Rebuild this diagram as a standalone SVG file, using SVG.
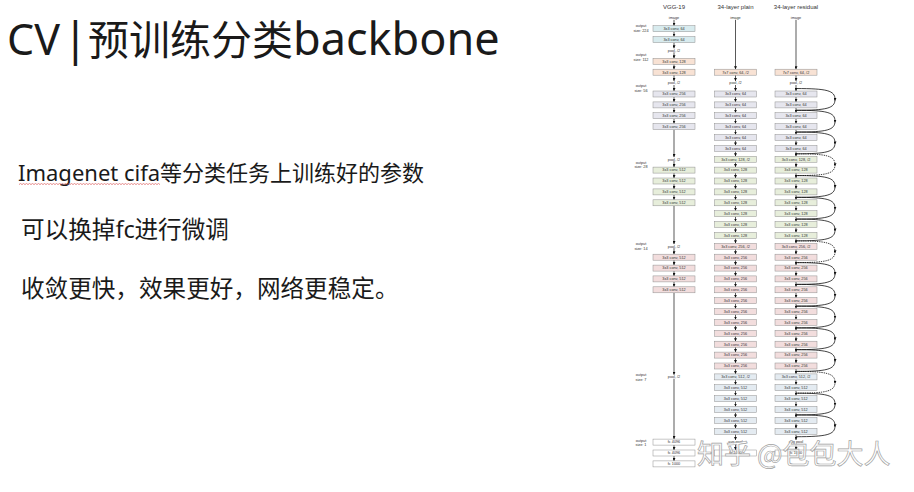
<svg xmlns="http://www.w3.org/2000/svg" width="914" height="492" viewBox="0 0 914 492">
<defs>
<style>
.b{stroke:#8f8f8f;stroke-width:0.5}
.t{font-family:"Liberation Sans",Arial,sans-serif;font-size:3.8px;fill:#333;text-anchor:middle}
.h{font-family:"Liberation Sans",Arial,sans-serif;font-size:6px;fill:#333;text-anchor:middle}
.a{stroke:#111;stroke-width:0.7;fill:none;marker-end:url(#ah)}
.s{stroke:#111;stroke-width:0.8;fill:none;marker-mid:url(#am)}
.d{stroke-dasharray:1.4 0.9}
.c224{fill:#d8ebee}.c112{fill:#f8e2d4}.c56{fill:#e6e6ee}.c28{fill:#e7eedb}.c14{fill:#f2dddd}.c7{fill:#e4ebf1}.cfc{fill:#fff}
.body{font-family:"Noto Sans","Noto Sans CJK SC",sans-serif;fill:#1a1a1a}
</style>
<marker id="ah" markerUnits="userSpaceOnUse" markerWidth="3" markerHeight="3" viewBox="0 0 3 3" refX="3" refY="1.5" orient="auto"><path d="M0,0L3,1.5L0,3z" fill="#111"/></marker>
<marker id="am" markerUnits="userSpaceOnUse" markerWidth="3" markerHeight="3" viewBox="0 0 3 3" refX="1.5" refY="1.5" orient="auto"><path d="M0,0L3,1.5L0,3z" fill="#111"/></marker>
<pattern id="wavy" patternUnits="userSpaceOnUse" x="19" y="183" width="3" height="2"><path d="M0,1.6L1.5,0.4L3,1.6" fill="none" stroke="#d43a3a" stroke-width="0.6"/></pattern>
</defs>
<rect width="914" height="492" fill="#fff"/>

<g id="title"><text class="body" y="55"><tspan x="7" font-size="43">CV</tspan><tspan x="63" font-size="45">|</tspan><tspan x="88" font-size="41">预训练分类</tspan><tspan x="293" font-size="45">backbone</tspan></text></g>
<g id="line1"><text class="body" y="181" font-size="22"><tspan x="18">Imagenet cifa</tspan><tspan x="160">等分类任务上训练好的参数</tspan></text><rect x="19" y="183" width="141" height="2" fill="url(#wavy)"/></g>
<g id="line2"><text class="body" y="238" font-size="23.6"><tspan x="21">可以换掉</tspan><tspan x="115.5">fc</tspan><tspan x="134.5">进行微调</tspan></text></g>
<g id="line3"><text class="body" x="21" y="297" font-size="23.6">收敛更快，效果更好，网络更稳定。</text></g>

<g id="headers">
<text class="h" x="674" y="9">VGG-19</text>
<text class="h" x="735.5" y="9">34-layer plain</text>
<text class="h" x="796" y="9">34-layer residual</text>
</g>
<g id="output-sizes">
<text class="t" x="641" y="27.3">output</text><text class="t" x="641" y="32">size: 224</text>
<text class="t" x="641" y="56">output</text><text class="t" x="641" y="60.6">size: 112</text>
<text class="t" x="641" y="87.3">output</text><text class="t" x="641" y="92.3">size: 56</text>
<text class="t" x="641" y="163.8">output</text><text class="t" x="641" y="168.3">size: 28</text>
<text class="t" x="641" y="245.3">output</text><text class="t" x="641" y="249.6">size: 14</text>
<text class="t" x="641" y="376">output</text><text class="t" x="641" y="380.6">size: 7</text>
<text class="t" x="641" y="441.5">output</text><text class="t" x="641" y="446.1">size: 1</text>
</g>

<g id="connectors">
<path class="a" d="M674,19.8V25.7"/><path class="a" d="M674,31.7V36.6"/><path class="a" d="M674,42.6V48.3"/><path class="a" d="M674,52.3V58.3"/><path class="a" d="M674,64.3V69.2"/><path class="a" d="M674,75.2V80.9"/><path class="a" d="M674,85V91"/><path class="a" d="M674,97V101.9"/><path class="a" d="M674,107.9V112.7"/><path class="a" d="M674,118.7V123.6"/><path class="a" d="M674,129.6V157.1"/><path class="a" d="M674,161.1V167.1"/><path class="a" d="M674,173.1V178"/><path class="a" d="M674,184V188.9"/><path class="a" d="M674,194.9V199.8"/><path class="a" d="M674,205.8V244.1"/><path class="a" d="M674,248.1V254.2"/><path class="a" d="M674,260.2V265.1"/><path class="a" d="M674,271.1V275.9"/><path class="a" d="M674,281.9V286.8"/><path class="a" d="M674,292.8V374.7"/><path class="a" d="M674,378.7V439.1"/><path class="a" d="M674,445.1V450"/><path class="a" d="M674,456V460.9"/>
<g id="plain-arrows" transform="translate(735.5,0)">
<path class="a" d="M0,19.8V69.2"/><path class="a" d="M0,75.2V80.9"/><path class="a" d="M0,85V91"/><path class="a" d="M0,97V101.9"/><path class="a" d="M0,107.9V112.7"/><path class="a" d="M0,118.7V123.6"/><path class="a" d="M0,129.6V134.5"/><path class="a" d="M0,140.5V145.4"/><path class="a" d="M0,151.4V156.3"/><path class="a" d="M0,162.3V167.1"/><path class="a" d="M0,173.1V178"/><path class="a" d="M0,184V188.9"/><path class="a" d="M0,194.9V199.8"/><path class="a" d="M0,205.8V210.7"/><path class="a" d="M0,216.7V221.5"/><path class="a" d="M0,227.5V232.4"/><path class="a" d="M0,238.4V243.3"/><path class="a" d="M0,249.3V254.2"/><path class="a" d="M0,260.2V265.1"/><path class="a" d="M0,271.1V275.9"/><path class="a" d="M0,281.9V286.8"/><path class="a" d="M0,292.8V297.7"/><path class="a" d="M0,303.7V308.6"/><path class="a" d="M0,314.6V319.5"/><path class="a" d="M0,325.5V330.3"/><path class="a" d="M0,336.3V341.2"/><path class="a" d="M0,347.2V352.1"/><path class="a" d="M0,358.1V363"/><path class="a" d="M0,369V373.9"/><path class="a" d="M0,379.9V384.7"/><path class="a" d="M0,390.7V395.6"/><path class="a" d="M0,401.6V406.5"/><path class="a" d="M0,412.5V417.4"/><path class="a" d="M0,423.4V428.3"/><path class="a" d="M0,434.3V439.9"/><path class="a" d="M0,444V450"/>
</g>
<g id="res-arrows" transform="translate(796,0)">
<path class="a" d="M0,19.8V69.2"/><path class="a" d="M0,75.2V80.9"/><path class="a" d="M0,85V91"/><path class="a" d="M0,97V101.9"/><path class="a" d="M0,107.9V112.7"/><path class="a" d="M0,118.7V123.6"/><path class="a" d="M0,129.6V134.5"/><path class="a" d="M0,140.5V145.4"/><path class="a" d="M0,151.4V156.3"/><path class="a" d="M0,162.3V167.1"/><path class="a" d="M0,173.1V178"/><path class="a" d="M0,184V188.9"/><path class="a" d="M0,194.9V199.8"/><path class="a" d="M0,205.8V210.7"/><path class="a" d="M0,216.7V221.5"/><path class="a" d="M0,227.5V232.4"/><path class="a" d="M0,238.4V243.3"/><path class="a" d="M0,249.3V254.2"/><path class="a" d="M0,260.2V265.1"/><path class="a" d="M0,271.1V275.9"/><path class="a" d="M0,281.9V286.8"/><path class="a" d="M0,292.8V297.7"/><path class="a" d="M0,303.7V308.6"/><path class="a" d="M0,314.6V319.5"/><path class="a" d="M0,325.5V330.3"/><path class="a" d="M0,336.3V341.2"/><path class="a" d="M0,347.2V352.1"/><path class="a" d="M0,358.1V363"/><path class="a" d="M0,369V373.9"/><path class="a" d="M0,379.9V384.7"/><path class="a" d="M0,390.7V395.6"/><path class="a" d="M0,401.6V406.5"/><path class="a" d="M0,412.5V417.4"/><path class="a" d="M0,423.4V428.3"/><path class="a" d="M0,434.3V439.9"/><path class="a" d="M0,444V450"/>
</g>
<g id="shortcuts">
<path class="s" d="M796,88.54C827,88.54 835,90.5 835,99.42C835,108.3 827,110.3 796,110.3"/>
<path class="s" d="M796,110.3C827,110.3 835,112.3 835,121.18C835,130.1 827,132.06 796,132.06"/>
<path class="s" d="M796,132.06C827,132.06 835,134 835,142.94C835,151.8 827,153.82 796,153.82"/>
<path class="s d" d="M796,153.82C827,153.82 835,155.8 835,164.7C835,173.6 827,175.58 796,175.58"/>
<path class="s" d="M796,175.58C827,175.58 835,177.6 835,186.46C835,195.3 827,197.34 796,197.34"/>
<path class="s" d="M796,197.34C827,197.34 835,199.3 835,208.22C835,217.1 827,219.1 796,219.1"/>
<path class="s" d="M796,219.1C827,219.1 835,221.1 835,229.98C835,238.9 827,240.86 796,240.86"/>
<path class="s d" d="M796,240.86C827,240.86 835,242.9 835,251.74C835,260.6 827,262.62 796,262.62"/>
<path class="s" d="M796,262.62C827,262.62 835,264.6 835,273.5C835,282.4 827,284.38 796,284.38"/>
<path class="s" d="M796,284.38C827,284.38 835,286.4 835,295.26C835,304.1 827,306.14 796,306.14"/>
<path class="s" d="M796,306.14C827,306.14 835,308.1 835,317.02C835,325.9 827,327.9 796,327.9"/>
<path class="s" d="M796,327.9C827,327.9 835,329.9 835,338.78C835,347.7 827,349.66 796,349.66"/>
<path class="s" d="M796,349.66C827,349.66 835,351.7 835,360.54C835,369.4 827,371.42 796,371.42"/>
<path class="s d" d="M796,371.42C827,371.42 835,373.4 835,382.3C835,391.2 827,393.18 796,393.18"/>
<path class="s" d="M796,393.18C827,393.18 835,395.2 835,404.06C835,412.9 827,414.94 796,414.94"/>
<path class="s" d="M796,414.94C827,414.94 835,416.9 835,425.82C835,434.7 827,436.7 796,436.7"/>
</g>
</g>

<g id="vgg">
<g id="v-image"><text class="t" x="674" y="19">image</text></g>
<g id="v-c1" transform="translate(674,28.7)"><rect class="b c224" x="-21" y="-3" width="42" height="6"/><text class="t" y="1.3">3x3 conv, 64</text></g>
<g id="v-c2" transform="translate(674,39.6)"><rect class="b c224" x="-21" y="-3" width="42" height="6"/><text class="t" y="1.3">3x3 conv, 64</text></g>
<g id="v-p1" transform="translate(674,50.5)"><text class="t" y="1.3">pool, /2</text></g>
<g id="v-c3" transform="translate(674,61.3)"><rect class="b c112" x="-21" y="-3" width="42" height="6"/><text class="t" y="1.3">3x3 conv, 128</text></g>
<g id="v-c4" transform="translate(674,72.2)"><rect class="b c112" x="-21" y="-3" width="42" height="6"/><text class="t" y="1.3">3x3 conv, 128</text></g>
<g id="v-p2" transform="translate(674,83.1)"><text class="t" y="1.3">pool, /2</text></g>
<g id="v-c5" transform="translate(674,94)"><rect class="b c56" x="-21" y="-3" width="42" height="6"/><text class="t" y="1.3">3x3 conv, 256</text></g>
<g id="v-c6" transform="translate(674,104.9)"><rect class="b c56" x="-21" y="-3" width="42" height="6"/><text class="t" y="1.3">3x3 conv, 256</text></g>
<g id="v-c7" transform="translate(674,115.7)"><rect class="b c56" x="-21" y="-3" width="42" height="6"/><text class="t" y="1.3">3x3 conv, 256</text></g>
<g id="v-c8" transform="translate(674,126.6)"><rect class="b c56" x="-21" y="-3" width="42" height="6"/><text class="t" y="1.3">3x3 conv, 256</text></g>
<g id="v-p3" transform="translate(674,159.3)"><text class="t" y="1.3">pool, /2</text></g>
<g id="v-c9" transform="translate(674,170.1)"><rect class="b c28" x="-21" y="-3" width="42" height="6"/><text class="t" y="1.3">3x3 conv, 512</text></g>
<g id="v-c10" transform="translate(674,181)"><rect class="b c28" x="-21" y="-3" width="42" height="6"/><text class="t" y="1.3">3x3 conv, 512</text></g>
<g id="v-c11" transform="translate(674,191.9)"><rect class="b c28" x="-21" y="-3" width="42" height="6"/><text class="t" y="1.3">3x3 conv, 512</text></g>
<g id="v-c12" transform="translate(674,202.8)"><rect class="b c28" x="-21" y="-3" width="42" height="6"/><text class="t" y="1.3">3x3 conv, 512</text></g>
<g id="v-p4" transform="translate(674,246.3)"><text class="t" y="1.3">pool, /2</text></g>
<g id="v-c13" transform="translate(674,257.2)"><rect class="b c14" x="-21" y="-3" width="42" height="6"/><text class="t" y="1.3">3x3 conv, 512</text></g>
<g id="v-c14" transform="translate(674,268.1)"><rect class="b c14" x="-21" y="-3" width="42" height="6"/><text class="t" y="1.3">3x3 conv, 512</text></g>
<g id="v-c15" transform="translate(674,278.9)"><rect class="b c14" x="-21" y="-3" width="42" height="6"/><text class="t" y="1.3">3x3 conv, 512</text></g>
<g id="v-c16" transform="translate(674,289.8)"><rect class="b c14" x="-21" y="-3" width="42" height="6"/><text class="t" y="1.3">3x3 conv, 512</text></g>
<g id="v-p5" transform="translate(674,376.9)"><text class="t" y="1.3">pool, /2</text></g>
<g id="v-f1" transform="translate(674,442.1)"><rect class="b cfc" x="-21" y="-3" width="42" height="6"/><text class="t" y="1.3">fc 4096</text></g>
<g id="v-f2" transform="translate(674,453)"><rect class="b cfc" x="-21" y="-3" width="42" height="6"/><text class="t" y="1.3">fc 4096</text></g>
<g id="v-f3" transform="translate(674,463.9)"><rect class="b cfc" x="-21" y="-3" width="42" height="6"/><text class="t" y="1.3">fc 1000</text></g>
</g>

<g id="plain">
<g id="p-image"><text class="t" x="735.5" y="19">image</text></g>
<g id="p-c0" transform="translate(735.5,72.2)"><rect class="b c112" x="-21" y="-3" width="42" height="6"/><text class="t" y="1.3">7x7 conv, 64, /2</text></g>
<g id="p-p1" transform="translate(735.5,83.1)"><text class="t" y="1.3">pool, /2</text></g>
<g id="p-c1" transform="translate(735.5,94)"><rect class="b c56" x="-21" y="-3" width="42" height="6"/><text class="t" y="1.3">3x3 conv, 64</text></g>
<g id="p-c2" transform="translate(735.5,104.9)"><rect class="b c56" x="-21" y="-3" width="42" height="6"/><text class="t" y="1.3">3x3 conv, 64</text></g>
<g id="p-c3" transform="translate(735.5,115.7)"><rect class="b c56" x="-21" y="-3" width="42" height="6"/><text class="t" y="1.3">3x3 conv, 64</text></g>
<g id="p-c4" transform="translate(735.5,126.6)"><rect class="b c56" x="-21" y="-3" width="42" height="6"/><text class="t" y="1.3">3x3 conv, 64</text></g>
<g id="p-c5" transform="translate(735.5,137.5)"><rect class="b c56" x="-21" y="-3" width="42" height="6"/><text class="t" y="1.3">3x3 conv, 64</text></g>
<g id="p-c6" transform="translate(735.5,148.4)"><rect class="b c56" x="-21" y="-3" width="42" height="6"/><text class="t" y="1.3">3x3 conv, 64</text></g>
<g id="p-c7" transform="translate(735.5,159.3)"><rect class="b c28" x="-21" y="-3" width="42" height="6"/><text class="t" y="1.3">3x3 conv, 128, /2</text></g>
<g id="p-c8" transform="translate(735.5,170.1)"><rect class="b c28" x="-21" y="-3" width="42" height="6"/><text class="t" y="1.3">3x3 conv, 128</text></g>
<g id="p-c9" transform="translate(735.5,181)"><rect class="b c28" x="-21" y="-3" width="42" height="6"/><text class="t" y="1.3">3x3 conv, 128</text></g>
<g id="p-c10" transform="translate(735.5,191.9)"><rect class="b c28" x="-21" y="-3" width="42" height="6"/><text class="t" y="1.3">3x3 conv, 128</text></g>
<g id="p-c11" transform="translate(735.5,202.8)"><rect class="b c28" x="-21" y="-3" width="42" height="6"/><text class="t" y="1.3">3x3 conv, 128</text></g>
<g id="p-c12" transform="translate(735.5,213.7)"><rect class="b c28" x="-21" y="-3" width="42" height="6"/><text class="t" y="1.3">3x3 conv, 128</text></g>
<g id="p-c13" transform="translate(735.5,224.5)"><rect class="b c28" x="-21" y="-3" width="42" height="6"/><text class="t" y="1.3">3x3 conv, 128</text></g>
<g id="p-c14" transform="translate(735.5,235.4)"><rect class="b c28" x="-21" y="-3" width="42" height="6"/><text class="t" y="1.3">3x3 conv, 128</text></g>
<g id="p-c15" transform="translate(735.5,246.3)"><rect class="b c14" x="-21" y="-3" width="42" height="6"/><text class="t" y="1.3">3x3 conv, 256, /2</text></g>
<g id="p-c16" transform="translate(735.5,257.2)"><rect class="b c14" x="-21" y="-3" width="42" height="6"/><text class="t" y="1.3">3x3 conv, 256</text></g>
<g id="p-c17" transform="translate(735.5,268.1)"><rect class="b c14" x="-21" y="-3" width="42" height="6"/><text class="t" y="1.3">3x3 conv, 256</text></g>
<g id="p-c18" transform="translate(735.5,278.9)"><rect class="b c14" x="-21" y="-3" width="42" height="6"/><text class="t" y="1.3">3x3 conv, 256</text></g>
<g id="p-c19" transform="translate(735.5,289.8)"><rect class="b c14" x="-21" y="-3" width="42" height="6"/><text class="t" y="1.3">3x3 conv, 256</text></g>
<g id="p-c20" transform="translate(735.5,300.7)"><rect class="b c14" x="-21" y="-3" width="42" height="6"/><text class="t" y="1.3">3x3 conv, 256</text></g>
<g id="p-c21" transform="translate(735.5,311.6)"><rect class="b c14" x="-21" y="-3" width="42" height="6"/><text class="t" y="1.3">3x3 conv, 256</text></g>
<g id="p-c22" transform="translate(735.5,322.5)"><rect class="b c14" x="-21" y="-3" width="42" height="6"/><text class="t" y="1.3">3x3 conv, 256</text></g>
<g id="p-c23" transform="translate(735.5,333.3)"><rect class="b c14" x="-21" y="-3" width="42" height="6"/><text class="t" y="1.3">3x3 conv, 256</text></g>
<g id="p-c24" transform="translate(735.5,344.2)"><rect class="b c14" x="-21" y="-3" width="42" height="6"/><text class="t" y="1.3">3x3 conv, 256</text></g>
<g id="p-c25" transform="translate(735.5,355.1)"><rect class="b c14" x="-21" y="-3" width="42" height="6"/><text class="t" y="1.3">3x3 conv, 256</text></g>
<g id="p-c26" transform="translate(735.5,366)"><rect class="b c14" x="-21" y="-3" width="42" height="6"/><text class="t" y="1.3">3x3 conv, 256</text></g>
<g id="p-c27" transform="translate(735.5,376.9)"><rect class="b c7" x="-21" y="-3" width="42" height="6"/><text class="t" y="1.3">3x3 conv, 512, /2</text></g>
<g id="p-c28" transform="translate(735.5,387.7)"><rect class="b c7" x="-21" y="-3" width="42" height="6"/><text class="t" y="1.3">3x3 conv, 512</text></g>
<g id="p-c29" transform="translate(735.5,398.6)"><rect class="b c7" x="-21" y="-3" width="42" height="6"/><text class="t" y="1.3">3x3 conv, 512</text></g>
<g id="p-c30" transform="translate(735.5,409.5)"><rect class="b c7" x="-21" y="-3" width="42" height="6"/><text class="t" y="1.3">3x3 conv, 512</text></g>
<g id="p-c31" transform="translate(735.5,420.4)"><rect class="b c7" x="-21" y="-3" width="42" height="6"/><text class="t" y="1.3">3x3 conv, 512</text></g>
<g id="p-c32" transform="translate(735.5,431.3)"><rect class="b c7" x="-21" y="-3" width="42" height="6"/><text class="t" y="1.3">3x3 conv, 512</text></g>
<g id="p-avg" transform="translate(735.5,442.1)"><text class="t" y="1.3">avg pool</text></g>
<g id="p-fc" transform="translate(735.5,453)"><rect class="b cfc" x="-21" y="-3" width="42" height="6"/><text class="t" y="1.3">fc 1000</text></g>
</g>

<g id="residual">
<g id="r-image"><text class="t" x="796" y="19">image</text></g>
<g id="r-c0" transform="translate(796,72.2)"><rect class="b c112" x="-21" y="-3" width="42" height="6"/><text class="t" y="1.3">7x7 conv, 64, /2</text></g>
<g id="r-p1" transform="translate(796,83.1)"><text class="t" y="1.3">pool, /2</text></g>
<g id="r-c1" transform="translate(796,94)"><rect class="b c56" x="-21" y="-3" width="42" height="6"/><text class="t" y="1.3">3x3 conv, 64</text></g>
<g id="r-c2" transform="translate(796,104.9)"><rect class="b c56" x="-21" y="-3" width="42" height="6"/><text class="t" y="1.3">3x3 conv, 64</text></g>
<g id="r-c3" transform="translate(796,115.7)"><rect class="b c56" x="-21" y="-3" width="42" height="6"/><text class="t" y="1.3">3x3 conv, 64</text></g>
<g id="r-c4" transform="translate(796,126.6)"><rect class="b c56" x="-21" y="-3" width="42" height="6"/><text class="t" y="1.3">3x3 conv, 64</text></g>
<g id="r-c5" transform="translate(796,137.5)"><rect class="b c56" x="-21" y="-3" width="42" height="6"/><text class="t" y="1.3">3x3 conv, 64</text></g>
<g id="r-c6" transform="translate(796,148.4)"><rect class="b c56" x="-21" y="-3" width="42" height="6"/><text class="t" y="1.3">3x3 conv, 64</text></g>
<g id="r-c7" transform="translate(796,159.3)"><rect class="b c28" x="-21" y="-3" width="42" height="6"/><text class="t" y="1.3">3x3 conv, 128, /2</text></g>
<g id="r-c8" transform="translate(796,170.1)"><rect class="b c28" x="-21" y="-3" width="42" height="6"/><text class="t" y="1.3">3x3 conv, 128</text></g>
<g id="r-c9" transform="translate(796,181)"><rect class="b c28" x="-21" y="-3" width="42" height="6"/><text class="t" y="1.3">3x3 conv, 128</text></g>
<g id="r-c10" transform="translate(796,191.9)"><rect class="b c28" x="-21" y="-3" width="42" height="6"/><text class="t" y="1.3">3x3 conv, 128</text></g>
<g id="r-c11" transform="translate(796,202.8)"><rect class="b c28" x="-21" y="-3" width="42" height="6"/><text class="t" y="1.3">3x3 conv, 128</text></g>
<g id="r-c12" transform="translate(796,213.7)"><rect class="b c28" x="-21" y="-3" width="42" height="6"/><text class="t" y="1.3">3x3 conv, 128</text></g>
<g id="r-c13" transform="translate(796,224.5)"><rect class="b c28" x="-21" y="-3" width="42" height="6"/><text class="t" y="1.3">3x3 conv, 128</text></g>
<g id="r-c14" transform="translate(796,235.4)"><rect class="b c28" x="-21" y="-3" width="42" height="6"/><text class="t" y="1.3">3x3 conv, 128</text></g>
<g id="r-c15" transform="translate(796,246.3)"><rect class="b c14" x="-21" y="-3" width="42" height="6"/><text class="t" y="1.3">3x3 conv, 256, /2</text></g>
<g id="r-c16" transform="translate(796,257.2)"><rect class="b c14" x="-21" y="-3" width="42" height="6"/><text class="t" y="1.3">3x3 conv, 256</text></g>
<g id="r-c17" transform="translate(796,268.1)"><rect class="b c14" x="-21" y="-3" width="42" height="6"/><text class="t" y="1.3">3x3 conv, 256</text></g>
<g id="r-c18" transform="translate(796,278.9)"><rect class="b c14" x="-21" y="-3" width="42" height="6"/><text class="t" y="1.3">3x3 conv, 256</text></g>
<g id="r-c19" transform="translate(796,289.8)"><rect class="b c14" x="-21" y="-3" width="42" height="6"/><text class="t" y="1.3">3x3 conv, 256</text></g>
<g id="r-c20" transform="translate(796,300.7)"><rect class="b c14" x="-21" y="-3" width="42" height="6"/><text class="t" y="1.3">3x3 conv, 256</text></g>
<g id="r-c21" transform="translate(796,311.6)"><rect class="b c14" x="-21" y="-3" width="42" height="6"/><text class="t" y="1.3">3x3 conv, 256</text></g>
<g id="r-c22" transform="translate(796,322.5)"><rect class="b c14" x="-21" y="-3" width="42" height="6"/><text class="t" y="1.3">3x3 conv, 256</text></g>
<g id="r-c23" transform="translate(796,333.3)"><rect class="b c14" x="-21" y="-3" width="42" height="6"/><text class="t" y="1.3">3x3 conv, 256</text></g>
<g id="r-c24" transform="translate(796,344.2)"><rect class="b c14" x="-21" y="-3" width="42" height="6"/><text class="t" y="1.3">3x3 conv, 256</text></g>
<g id="r-c25" transform="translate(796,355.1)"><rect class="b c14" x="-21" y="-3" width="42" height="6"/><text class="t" y="1.3">3x3 conv, 256</text></g>
<g id="r-c26" transform="translate(796,366)"><rect class="b c14" x="-21" y="-3" width="42" height="6"/><text class="t" y="1.3">3x3 conv, 256</text></g>
<g id="r-c27" transform="translate(796,376.9)"><rect class="b c7" x="-21" y="-3" width="42" height="6"/><text class="t" y="1.3">3x3 conv, 512, /2</text></g>
<g id="r-c28" transform="translate(796,387.7)"><rect class="b c7" x="-21" y="-3" width="42" height="6"/><text class="t" y="1.3">3x3 conv, 512</text></g>
<g id="r-c29" transform="translate(796,398.6)"><rect class="b c7" x="-21" y="-3" width="42" height="6"/><text class="t" y="1.3">3x3 conv, 512</text></g>
<g id="r-c30" transform="translate(796,409.5)"><rect class="b c7" x="-21" y="-3" width="42" height="6"/><text class="t" y="1.3">3x3 conv, 512</text></g>
<g id="r-c31" transform="translate(796,420.4)"><rect class="b c7" x="-21" y="-3" width="42" height="6"/><text class="t" y="1.3">3x3 conv, 512</text></g>
<g id="r-c32" transform="translate(796,431.3)"><rect class="b c7" x="-21" y="-3" width="42" height="6"/><text class="t" y="1.3">3x3 conv, 512</text></g>
<g id="r-avg" transform="translate(796,442.1)"><text class="t" y="1.3">avg pool</text></g>
<g id="r-fc" transform="translate(796,453)"><rect class="b cfc" x="-21" y="-3" width="42" height="6"/><text class="t" y="1.3">fc 1000</text></g>
</g>

<g id="watermark"><text x="697" y="464" font-family="Noto Sans CJK SC, sans-serif" font-size="27" fill="#fff" fill-opacity="0.8" stroke="#a2a2a2" stroke-width="0.7">知乎 @包包大人</text></g>
</svg>
